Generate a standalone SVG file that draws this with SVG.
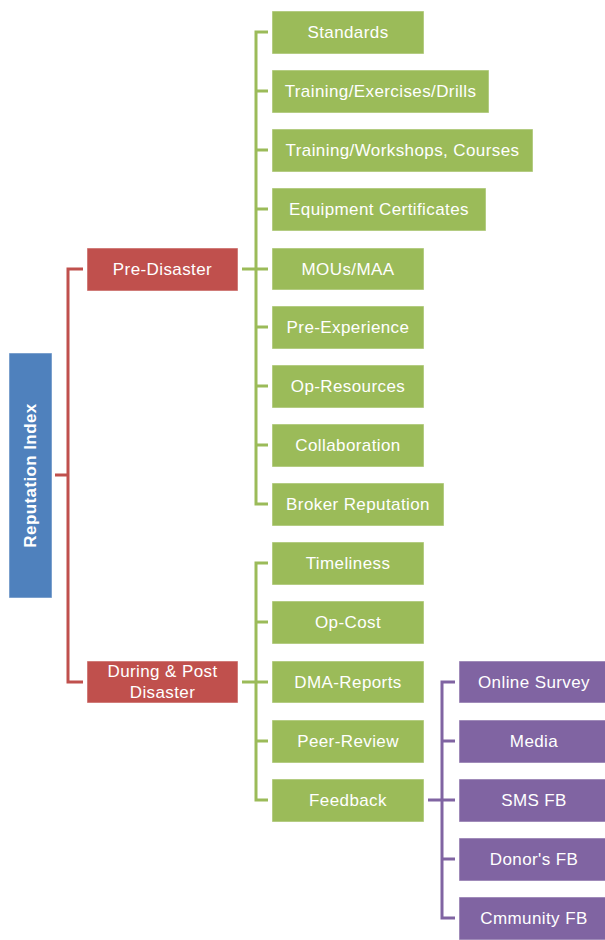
<svg xmlns="http://www.w3.org/2000/svg" width="605" height="940" viewBox="0 0 605 940">
<style>
.t{font-family:"Liberation Sans",Arial,sans-serif;font-size:17px;letter-spacing:0.4px;fill:#fff;text-anchor:middle;dominant-baseline:central}
.b{stroke-width:1;stroke-opacity:0.5;stroke:#fff}
.blue{fill:#4F81BD}.red{fill:#C0504D}.green{fill:#9BBB59}.purple{fill:#8064A2}
.c{fill:none;stroke-width:3;stroke-linejoin:miter}
</style>
<rect width="605" height="940" fill="#fff"/>
<g id="connectors">
<path class="c" stroke="#C0504D" d="M55,475H68M83,269H68V682H83"/>
<path class="c" stroke="#9BBB59" d="M242,269H256M268,32H256V504H268M268,91H256M268,150H256M268,209H256M268,269H256M268,327H256M268,386H256M268,445H256"/>
<path class="c" stroke="#9BBB59" d="M242,682H256M268,563H256V800H268M268,622H256M268,682H256M268,741H256"/>
<path class="c" stroke="#8064A2" d="M428,800H442M455,682H442V918H455M455,741H442M455,800H442M455,859H442"/>
</g>
<g id="root"><rect class="blue b" x="9" y="353" width="43" height="245"/><text class="t" font-weight="bold" transform="translate(30.5,475.5) rotate(-90)">Reputation Index</text></g>
<g id="pre"><rect class="red b" x="87" y="248" width="151" height="43"/><text class="t" x="162.5" y="269.5">Pre-Disaster</text></g>
<g id="during"><rect class="red b" x="87" y="661" width="151" height="42"/><text class="t" x="162.5" y="671">During &amp; Post</text><text class="t" x="162.5" y="692">Disaster</text></g>
<g id="standards"><rect class="green b" x="272" y="11" width="152" height="43"/><text class="t" x="348" y="32.5">Standards</text></g>
<g id="ted"><rect class="green b" x="272" y="70" width="217" height="43"/><text class="t" x="380.5" y="91.5">Training/Exercises/Drills</text></g>
<g id="twc"><rect class="green b" x="272" y="129" width="261" height="43"/><text class="t" x="402.5" y="150.5">Training/Workshops, Courses</text></g>
<g id="equip"><rect class="green b" x="272" y="188" width="214" height="43"/><text class="t" x="379" y="209.5">Equipment Certificates</text></g>
<g id="mous"><rect class="green b" x="272" y="248" width="152" height="42"/><text class="t" x="348" y="269">MOUs/MAA</text></g>
<g id="preexp"><rect class="green b" x="272" y="306" width="152" height="43"/><text class="t" x="348" y="327.5">Pre-Experience</text></g>
<g id="opres"><rect class="green b" x="272" y="365" width="152" height="43"/><text class="t" x="348" y="386.5">Op-Resources</text></g>
<g id="collab"><rect class="green b" x="272" y="424" width="152" height="43"/><text class="t" x="348" y="445.5">Collaboration</text></g>
<g id="broker"><rect class="green b" x="272" y="483" width="172" height="43"/><text class="t" x="358" y="504.5">Broker Reputation</text></g>
<g id="timeliness"><rect class="green b" x="272" y="542" width="152" height="43"/><text class="t" x="348" y="563.5">Timeliness</text></g>
<g id="opcost"><rect class="green b" x="272" y="601" width="152" height="43"/><text class="t" x="348" y="622.5">Op-Cost</text></g>
<g id="dma"><rect class="green b" x="272" y="661" width="152" height="42"/><text class="t" x="348" y="682">DMA-Reports</text></g>
<g id="peer"><rect class="green b" x="272" y="720" width="152" height="43"/><text class="t" x="348" y="741.5">Peer-Review</text></g>
<g id="feedback"><rect class="green b" x="272" y="779" width="152" height="43"/><text class="t" x="348" y="800.5">Feedback</text></g>
<g id="online"><rect class="purple b" x="459" y="661" width="150" height="42"/><text class="t" x="534" y="682">Online Survey</text></g>
<g id="media"><rect class="purple b" x="459" y="720" width="150" height="43"/><text class="t" x="534" y="741.5">Media</text></g>
<g id="sms"><rect class="purple b" x="459" y="779" width="150" height="43"/><text class="t" x="534" y="800.5">SMS FB</text></g>
<g id="donor"><rect class="purple b" x="459" y="838" width="150" height="43"/><text class="t" x="534" y="859.5">Donor's FB</text></g>
<g id="community"><rect class="purple b" x="459" y="897" width="150" height="43"/><text class="t" x="534" y="918.5">Cmmunity FB</text></g>
</svg>
